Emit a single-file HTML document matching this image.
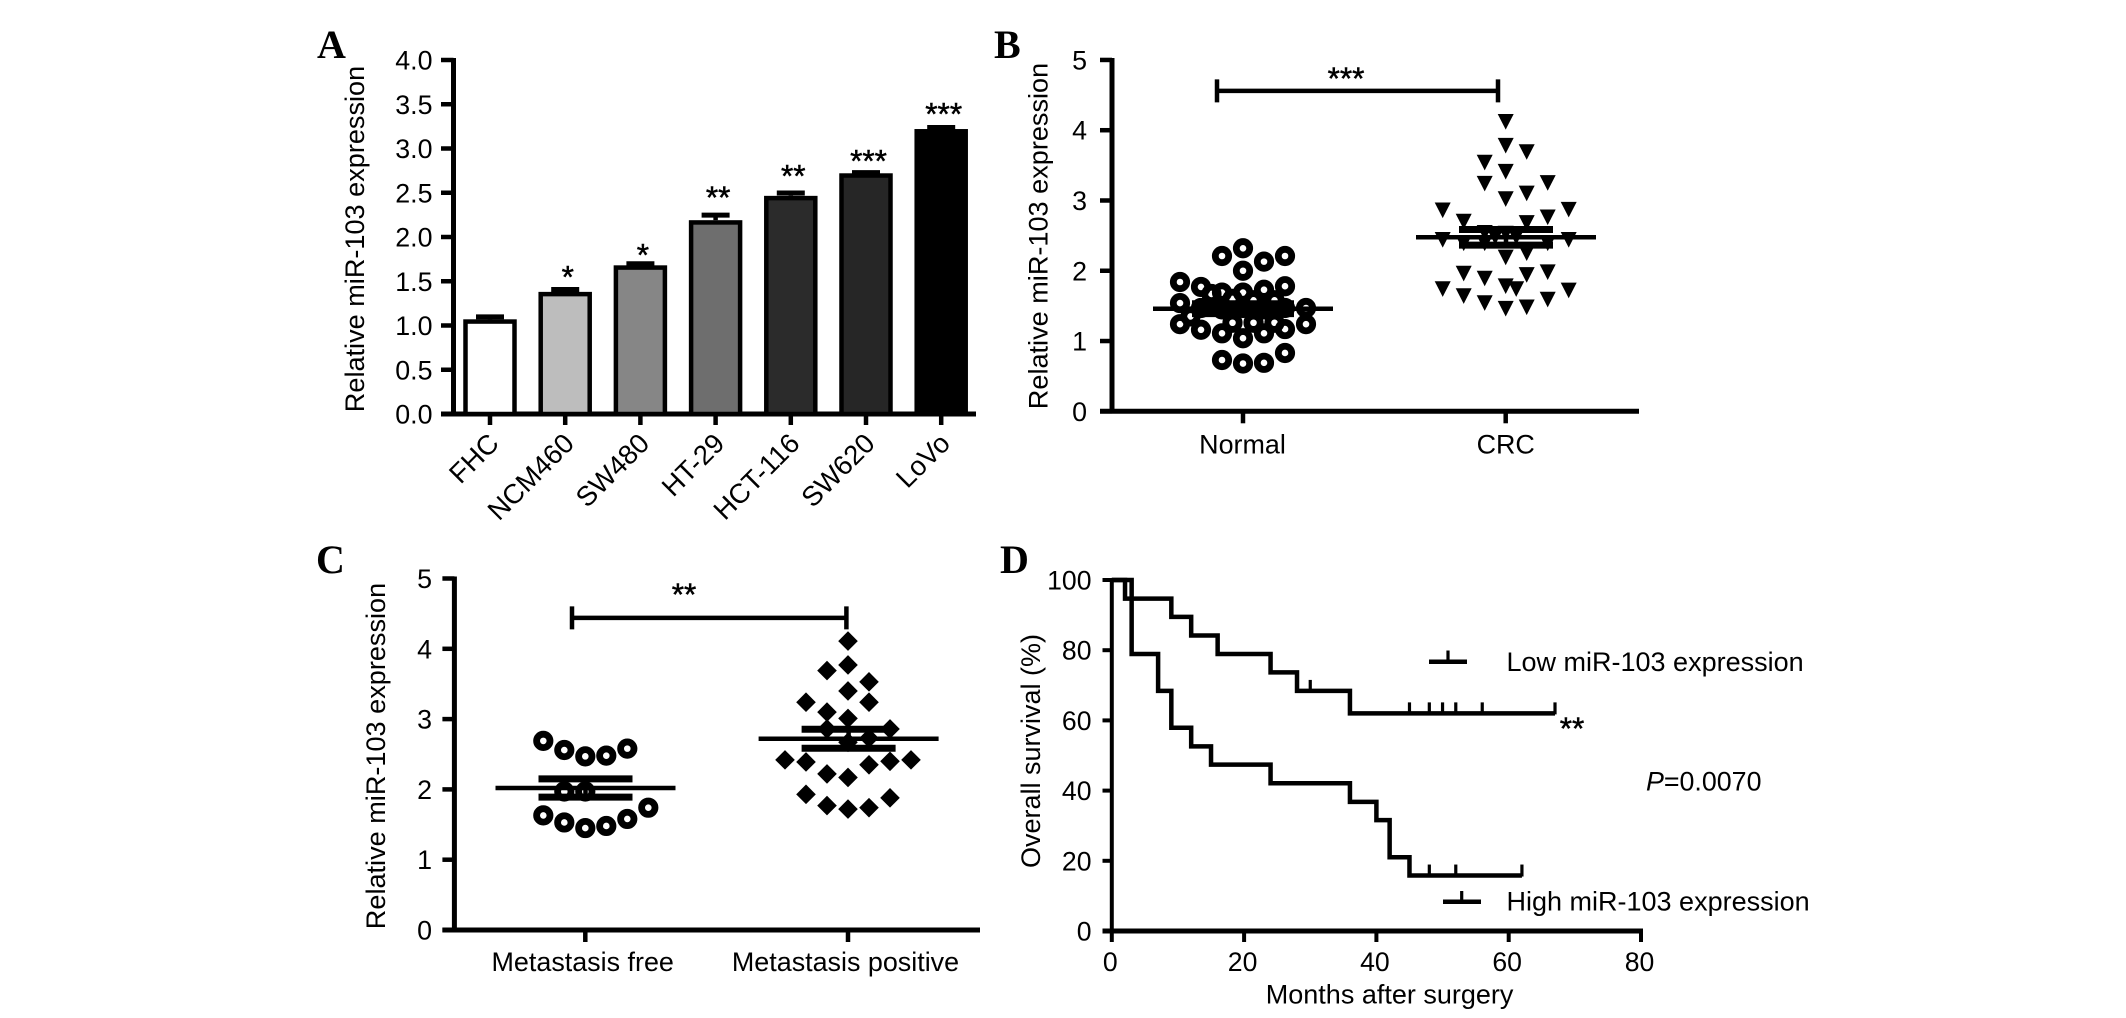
<!DOCTYPE html>
<html lang="en">
<head>
<meta charset="utf-8">
<title>miR-103 expression figure</title>
<style>
html,body{margin:0;padding:0;background:#fff;}
svg{display:block;}
text{font-family:"Liberation Sans",sans-serif;fill:#000;}
.letter{font-family:"Liberation Serif",serif;font-weight:bold;font-size:40px;fill:#000;}
</style>
</head>
<body>
<svg id="figure" xmlns="http://www.w3.org/2000/svg" width="2126" height="1018" viewBox="0 0 2126 1018">
  <rect x="0" y="0" width="2126" height="1018" fill="#fff"/>
  <g id="panelA">
    <text class="letter" x="317" y="58">A</text>
  </g>
  <g id="panelB">
    <text class="letter" x="994" y="58">B</text>
  </g>
  <g id="panelC">
    <text class="letter" x="316" y="573">C</text>
  </g>
  <g id="panelD">
    <text class="letter" x="1000" y="573">D</text>
  </g>
</svg>
<script>
// ---------- Panel A data ----------
var cellLines = ['FHC', 'NCM460', 'SW480', 'HT-29', 'HCT-116', 'SW620', 'LoVo'];
var cellValues = [1.07, 1.38, 1.68, 2.19, 2.465, 2.72, 3.22];
var cellErrors = [0.05, 0.05, 0.04, 0.08, 0.055, 0.03, 0.04];
var cellFills = ['#ffffff', '#bdbdbd', '#868686', '#6e6e6e', '#2b2b2b', '#262626', '#000000'];
var cellStars = ['', '*', '*', '**', '**', '***', '***'];
var cellStarLevels = [0, 1.6, 1.85, 2.5, 2.74, 2.91, 3.44];
var ticksA = ['0.0', '0.5', '1.0', '1.5', '2.0', '2.5', '3.0', '3.5', '4.0'];

// ---------- Panel B data ----------
var groupsB = ['Normal', 'CRC'];
var ticksScatter = ['0', '1', '2', '3', '4', '5'];
var normalLanes = [0,0,0,0,0, -1,-1,-1,-1, 1,1,1,1, 2,2,2,2, -2,-2, -3,-3,-3, 3,3, -2.5,-1.5,-0.5,-0.5,0.5,0.5,1.5,1.5, -2,-1,0,1,2];
var normalValues = [2.32,2.0,1.69,1.04,0.68, 2.21,1.69,1.11,0.73, 2.13,1.73,1.11,0.69, 2.21,1.78,1.17,0.83, 1.77,1.16, 1.84,1.54,1.24, 1.47,1.24, 1.35,1.67,1.6,1.26,1.58,1.26,1.58,1.26, 1.47,1.45,1.47,1.45,1.47];
var crcLanes = [0,0,0,0,0,0,0,0, 1,1,1,1,1,1, -1,-1,-1,-1,-1,-1, 2,2,2,2,2, -2,-2,-2,-2, -3,-3,-3, 3,3,3, 0.5,0.5,-0.5];
var crcValues = [4.12,3.78,3.41,3.02,2.53,2.19,1.78,1.46, 3.69,3.10,2.68,2.25,1.94,1.48, 3.54,3.24,2.54,2.39,1.89,1.54, 3.25,2.76,2.39,1.98,1.59, 2.70,2.39,1.96,1.64, 2.86,2.44,1.74, 2.87,2.44,1.72, 1.74,2.48,2.48];
var meansB = [1.46, 2.476];
var semsB = [0.07, 0.112];
var bracketLevelB = [4.56];

// ---------- Panel C data ----------
var groupsC = ['Metastasis free', 'Metastasis positive'];
var freeLanes = [-2,-1,0,1,2, -1,0, -2,-1,0,1,2,3];
var freeValues = [2.69,2.56,2.47,2.48,2.58, 1.97,1.97, 1.63,1.53,1.45,1.48,1.58,1.74];
var positiveLanes = [0,0,0,0,0,0,0, -1,-1,-1,-1,-1, 1,1,1,1,1, -2,-2,-2, 2,2,2, -3, 3];
var positiveValues = [4.11,3.77,3.40,3.01,2.67,2.17,1.72, 3.69,3.10,2.86,2.22,1.77, 3.53,3.24,2.73,2.35,1.74, 3.24,2.39,1.93, 2.86,2.40,1.88, 2.42,2.42];
var meansC = [2.02, 2.72];
var semsC = [0.13, 0.135];
var bracketLevelC = [4.44];

// ---------- Panel D data ----------
var survivalTicksY = ['0', '20', '40', '60', '80', '100'];
var survivalTicksX = ['0', '20', '40', '60', '80'];
var lowTimes = [0, 2, 9, 12, 16, 24, 28, 36, 67];
var lowSurvival = [100, 94.7, 89.5, 84.2, 78.9, 73.7, 68.4, 62, 62];
var lowCensorTimes = [30, 45, 48, 50, 52, 56, 67];
var highTimes = [0, 3, 7, 9, 12, 15, 24, 36, 40, 42, 45, 62];
var highSurvival = [100, 78.9, 68.4, 57.9, 52.6, 47.4, 42.1, 36.8, 31.6, 21, 15.8, 15.8];
var highCensorTimes = [48, 52, 62];

var NS = 'http://www.w3.org/2000/svg';

function addLine(parent, name, x1, y1, x2, y2, width) {
  var el = document.createElementNS(NS, 'line');
  
  
  el.setAttribute('x1', x1);
  el.setAttribute('y1', y1);
  el.setAttribute('x2', x2);
  el.setAttribute('y2', y2);
  el.setAttribute('stroke', '#000');
  el.setAttribute('stroke-width', width);
  parent.appendChild(el);
  return el;
}

function addText(parent, name, str, x, y, size, anchor, rotate) {
  var el = document.createElementNS(NS, 'text');
  
  
  el.setAttribute('x', x);
  el.setAttribute('y', y);
  el.setAttribute('font-size', size);
  el.setAttribute('text-anchor', anchor);
  if (rotate) el.setAttribute('transform', 'rotate(' + rotate + ' ' + x + ' ' + y + ')');
  el.textContent = str;
  parent.appendChild(el);
  return el;
}

function addRing(parent, name, cx, cy) {
  var el = document.createElementNS(NS, 'circle');
  
  
  el.setAttribute('cx', cx);
  el.setAttribute('cy', cy);
  el.setAttribute('r', 6.7);
  el.setAttribute('fill', 'none');
  el.setAttribute('stroke', '#000');
  el.setAttribute('stroke-width', 6.8);
  parent.appendChild(el);
}

function addMarker(parent, name, cx, cy, kind) {
  var el = document.createElementNS(NS, 'polygon');
  
  
  var pts;
  if (kind === 'triangle') {
    pts = (cx - 8) + ',' + (cy - 7.8) + ' ' + (cx + 8) + ',' + (cy - 7.8) + ' ' + cx + ',' + (cy + 7.8);
  } else {
    pts = cx + ',' + (cy - 9.8) + ' ' + (cx + 9.8) + ',' + cy + ' ' + cx + ',' + (cy + 9.8) + ' ' + (cx - 9.8) + ',' + cy;
  }
  el.setAttribute('points', pts);
  el.setAttribute('fill', '#000');
  parent.appendChild(el);
}

function addStars(parent, name, str, cx, centerY) {
  var el = addText(parent, name, str, cx, centerY + 15, 31.5, 'middle');
  el.setAttribute('stroke', '#000');
  el.setAttribute('stroke-width', 0.5);
  return el;
}

// ---------- Panel A ----------
(function () {
  var g = document.getElementById('panelA');
  var y0 = 414, unit = 88.5, axisX = 453.5;
  function y(v) { return y0 - v * unit; }
  function x(i) { return 490 + i * 75.2; }

  addLine(g, 'y-axis-line', axisX, y(4) - 2, axisX, y0 + 2, 5);
  addLine(g, 'x-axis-line', 441, y0, 976, y0, 5);
  addText(g, 'y-axis-title', 'Relative miR-103 expression', 364, 239, 27.1, 'middle', -90);

  ticksA.forEach(function (label) {
    var v = parseFloat(label);
    addLine(g, 'y-tick', 441, y(v), axisX, y(v), 4.5);
    addText(g, 'y-tick-label', label, 432.5, y(v) + 9.5, 26.8, 'end');
  });

  cellLines.forEach(function (name, i) {
    var cx = x(i);
    var top = y(cellValues[i]);
    addLine(g, 'error-stem-' + name, cx, top, cx, y(cellValues[i] + cellErrors[i]), 4.5);
    addLine(g, 'error-cap-' + name, cx - 14, y(cellValues[i] + cellErrors[i]) + 2, cx + 14, y(cellValues[i] + cellErrors[i]) + 2, 5);

    var bar = document.createElementNS(NS, 'rect');
    
    
    bar.setAttribute('x', cx - 24.5);
    bar.setAttribute('y', top + 2.25);
    bar.setAttribute('width', 49);
    bar.setAttribute('height', y0 - top - 2.25);
    bar.setAttribute('fill', cellFills[i]);
    bar.setAttribute('stroke', '#000');
    bar.setAttribute('stroke-width', 4.5);
    g.appendChild(bar);

    addLine(g, 'x-tick', cx, y0, cx, 425, 4.5);
    addText(g, 'x-tick-label', name, cx + 10.5, 445, 27.5, 'end', -45);
    if (cellStars[i]) addStars(g, 'significance-' + name, cellStars[i], cx + 2.5, y(cellStarLevels[i]));
  });
})();

// ---------- Shared scatter panel ----------
function drawScatter(g, cfg) {
  function y(v) { return cfg.y0 - v * cfg.unit; }
  addLine(g, 'y-axis-line', cfg.axisX, y(5) - 2, cfg.axisX, cfg.y0 + 2, 5);
  addLine(g, 'x-axis-line', cfg.axisX - 12, cfg.y0, cfg.axisEnd, cfg.y0, 5);
  addText(g, 'y-axis-title', 'Relative miR-103 expression', cfg.titleX, cfg.titleY, 27.1, 'middle', -90);

  ticksScatter.forEach(function (label) {
    var v = parseFloat(label);
    addLine(g, 'y-tick', cfg.axisX - 12, y(v), cfg.axisX, y(v), 4.5);
    addText(g, 'y-tick-label', label, cfg.labelX, y(v) + 9.5, 26.8, 'end');
  });

  cfg.groups.forEach(function (name, i) {
    addLine(g, 'x-tick', cfg.centers[i], cfg.y0, cfg.centers[i], cfg.y0 + 12, 4.5);
    addText(g, 'x-tick-label', name, cfg.labelCenters[i], cfg.catBaseline, 26.9, 'middle');
  });

  cfg.series.forEach(function (s, gi) {
    s.values.forEach(function (v, i) {
      var cx = cfg.centers[gi] + s.lanes[i] * 21;
      if (s.kind === 'ring') addRing(g, 'point-' + cfg.groups[gi], cx, y(v));
      else addMarker(g, 'point-' + cfg.groups[gi], cx, y(v), s.kind);
    });
  });

  cfg.means.forEach(function (m, i) {
    var c = cfg.lineCenters[i];
    var half = cfg.capHalf[i];
    addLine(g, 'mean-line-' + cfg.groups[i], c - 90, y(m), c + 90, y(m), 4.5);
    addLine(g, 'sem-upper-cap-' + cfg.groups[i], c - half, y(m + cfg.sems[i]), c + half, y(m + cfg.sems[i]), 7);
    addLine(g, 'sem-lower-cap-' + cfg.groups[i], c - half, y(m - cfg.sems[i]), c + half, y(m - cfg.sems[i]), 7);
    addLine(g, 'sem-stem-' + cfg.groups[i], c, y(m + cfg.sems[i]), c, y(m - cfg.sems[i]), 4.5);
  });

  var by = y(cfg.bracketLevel);
  addLine(g, 'significance-bracket', cfg.bracket[0], by, cfg.bracket[1], by, 4.5);
  addLine(g, 'significance-bracket-left', cfg.bracket[0], by - 11.5, cfg.bracket[0], by + 11.5, 4.5);
  addLine(g, 'significance-bracket-right', cfg.bracket[1], by - 11.5, cfg.bracket[1], by + 11.5, 4.5);
  addStars(g, 'significance-stars', cfg.stars, cfg.starX, cfg.starY);
}

drawScatter(document.getElementById('panelB'), {
  y0: 411.3, unit: 70.27, axisX: 1112, axisEnd: 1639,
  titleX: 1047.5, titleY: 236, labelX: 1087, catBaseline: 453.5,
  groups: groupsB, centers: [1243, 1505.7], labelCenters: [1242.5, 1505.7], lineCenters: [1243, 1506],
  capHalf: [51, 47],
  series: [
    { kind: 'ring', lanes: normalLanes, values: normalValues },
    { kind: 'triangle', lanes: crcLanes, values: crcValues }
  ],
  means: meansB, sems: semsB, bracketLevel: bracketLevelB[0],
  bracket: [1217, 1498], stars: '***', starX: 1346, starY: 74
});

drawScatter(document.getElementById('panelC'), {
  y0: 930, unit: 70.3, axisX: 454.4, axisEnd: 980,
  titleX: 385, titleY: 756, labelX: 432, catBaseline: 971,
  groups: groupsC, centers: [585.3, 848], labelCenters: [582.7, 845.5], lineCenters: [585.5, 848.6],
  capHalf: [47, 47],
  series: [
    { kind: 'ring', lanes: freeLanes, values: freeValues },
    { kind: 'diamond', lanes: positiveLanes, values: positiveValues }
  ],
  means: meansC, sems: semsC, bracketLevel: bracketLevelC[0],
  bracket: [572, 846.4], stars: '**', starX: 684, starY: 590
});

// ---------- Panel D ----------
(function () {
  var g = document.getElementById('panelD');
  var x0 = 1111.8, xUnit = 6.615, y0 = 931, yUnit = 3.51;
  function x(t) { return x0 + t * xUnit; }
  function y(s) { return y0 - s * yUnit; }

  addLine(g, 'y-axis-line', x0, y(100) - 2, x0, y0 + 2, 4);
  addLine(g, 'x-axis-line', 1102.5, y0, x(80) + 2, y0, 5);
  addText(g, 'y-axis-title', 'Overall survival (%)', 1040, 751, 27, 'middle', -90);
  addText(g, 'x-axis-title', 'Months after surgery', 1389.6, 1003.5, 27, 'middle');

  survivalTicksY.forEach(function (label) {
    var v = parseFloat(label);
    addLine(g, 'y-tick', 1102.5, y(v), x0, y(v), 4);
    addText(g, 'y-tick-label', label, 1091.5, y(v) + 9.5, 26.6, 'end');
  });
  survivalTicksX.forEach(function (label) {
    var v = parseFloat(label);
    addLine(g, 'x-tick', x(v), y0, x(v), 942, 4);
    addText(g, 'x-tick-label', label, x(v) - 1.5, 971, 26.6, 'middle');
  });

  function drawCurve(name, times, surv, censors) {
    var d = 'M' + x(times[0]) + ' ' + y(surv[0]);
    times.forEach(function (t, i) {
      d += ' H' + x(t) + ' V' + y(surv[i]);
    });
    var el = document.createElementNS(NS, 'path');
    
    
    el.setAttribute('d', d);
    el.setAttribute('fill', 'none');
    el.setAttribute('stroke', '#000');
    el.setAttribute('stroke-width', 4.5);
    g.appendChild(el);

    censors.forEach(function (t) {
      var s = surv[0];
      times.forEach(function (tt, i) { if (tt <= t) s = surv[i]; });
      addLine(g, name + '-censor-tick', x(t), y(s) - 11, x(t), y(s) + 1, 3.2);
    });
  }
  drawCurve('low', lowTimes, lowSurvival, lowCensorTimes);
  drawCurve('high', highTimes, highSurvival, highCensorTimes);

  addLine(g, 'legend-low-line', 1429, 661.7, 1467, 661.7, 4.5);
  addLine(g, 'legend-low-tick', 1448, 650.5, 1448, 661.7, 3.2);
  addText(g, 'legend-low-label', 'Low miR-103 expression', 1506.5, 671, 27, 'start');
  addLine(g, 'legend-high-line', 1443, 901.7, 1481, 901.7, 4.5);
  addLine(g, 'legend-high-tick', 1461.7, 891, 1461.7, 901.7, 3.2);
  addText(g, 'legend-high-label', 'High miR-103 expression', 1506.5, 910.5, 27, 'start');

  addStars(g, 'significance-stars', '**', 1572, 724);

  var p = addText(g, 'p-value', '', 1646, 790.7, 26.8, 'start');
  var pi = document.createElementNS(NS, 'tspan');
  
  
  pi.setAttribute('font-style', 'italic');
  pi.textContent = 'P';
  p.appendChild(pi);
  p.appendChild(document.createTextNode('=0.0070'));
})();
</script>
</body>
</html>
